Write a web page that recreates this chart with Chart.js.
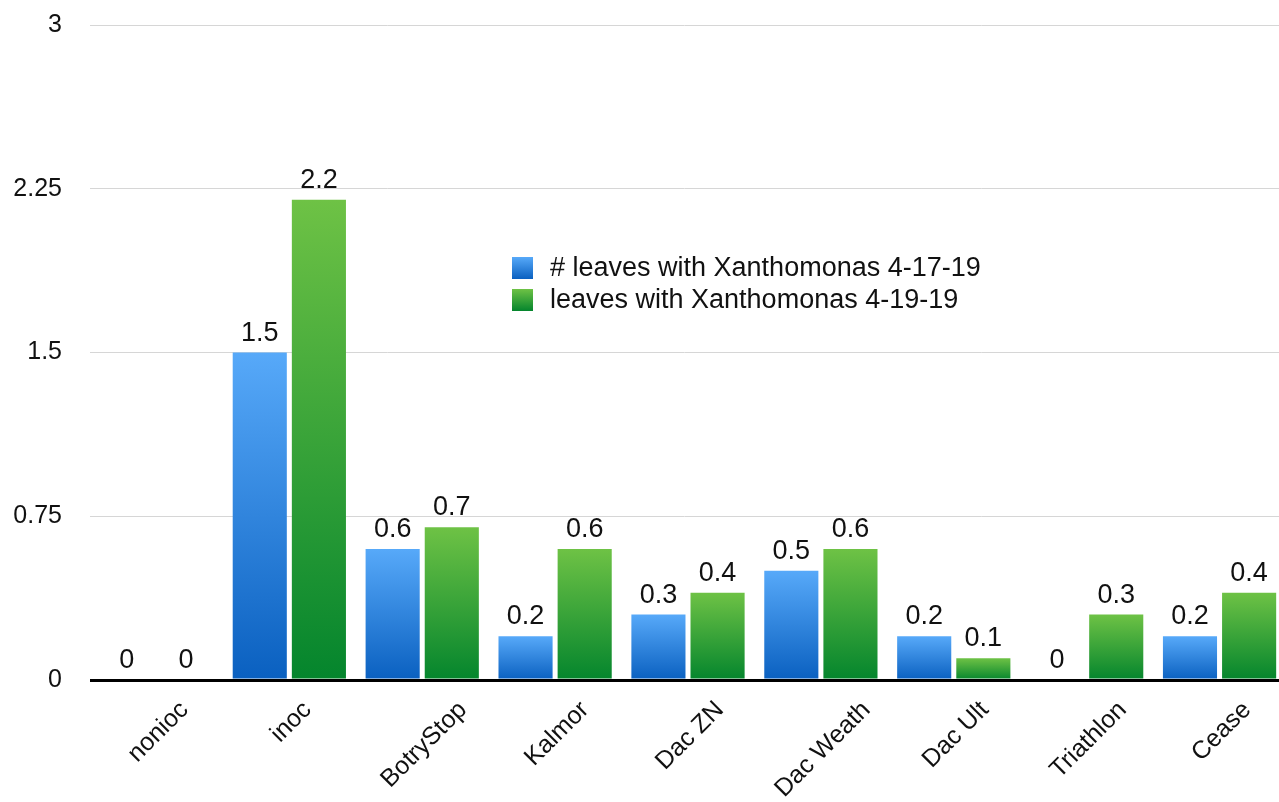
<!DOCTYPE html>
<html>
<head>
<meta charset="utf-8">
<script src="https://cdn.jsdelivr.net/npm/chart.js@4/dist/chart.umd.min.js"></script>
<style>
  html, body { margin: 0; padding: 0; background: #fff; }
  #wrap { width: 1279px; height: 802px; position: relative; }
</style>
</head>
<body>
<div id="wrap"><canvas id="chart"></canvas></div>
<script>
const categories = ["nonioc", "inoc", "BotryStop", "Kalmor", "Dac ZN", "Dac Weath", "Dac Ult", "Triathlon", "Cease"];
const leaves41719 = [0, 1.5, 0.6, 0.2, 0.3, 0.5, 0.2, 0, 0.2];
const leaves41919 = [0, 2.2, 0.7, 0.6, 0.4, 0.6, 0.1, 0.3, 0.4];
const yTicks = [0, 0.75, 1.5, 2.25, 3];

const FONT = "'Liberation Sans', Arial, Helvetica, sans-serif";
const blue = ["#57a9f9", "#0a60c0"];
const green = ["#6ec245", "#04852d"];

function barGradient(colors) {
  return ctx => {
    const chart = ctx.chart;
    const y = chart.scales.y;
    if (!y || !chart.chartArea || ctx.raw === undefined) return colors[1];
    const top = y.getPixelForValue(ctx.raw);
    const base = y.getPixelForValue(0);
    if (!isFinite(top) || !isFinite(base) || Math.abs(base - top) < 1) return colors[1];
    const g = chart.ctx.createLinearGradient(0, top, 0, base);
    g.addColorStop(0, colors[0]);
    g.addColorStop(1, colors[1]);
    return g;
  };
}

// plot area as in the original: top tick at 25px, category band a bit past the right edge
const fitArea = {
  id: "fitArea",
  afterLayout(chart) {
    const x = chart.scales.x;
    const y = chart.scales.y;
    chart.chartArea.top = 25;
    chart.chartArea.height = chart.chartArea.bottom - 25;
    y.top = 25;
    y.height = y.bottom - y.top;
    y.configure();
    x.right = chart.chartArea.right + 7;
    x.width = x.right - x.left;
    x.configure();
  }
};

// value labels above each bar
const valueLabels = {
  id: "valueLabels",
  afterDatasetsDraw(chart) {
    const { ctx } = chart;
    ctx.save();
    ctx.font = "27px " + FONT;
    ctx.fillStyle = "#111";
    ctx.textAlign = "center";
    ctx.textBaseline = "alphabetic";
    chart.data.datasets.forEach((ds, i) => {
      chart.getDatasetMeta(i).data.forEach((bar, j) => {
        ctx.fillText(String(ds.data[j]), bar.x, bar.y - 12);
      });
    });
    ctx.restore();
  }
};

// rotated category labels, centred under each group
const xLabels = {
  id: "xLabels",
  afterDraw(chart) {
    const { ctx } = chart;
    const x = chart.scales.x;
    ctx.save();
    ctx.font = "25px " + FONT;
    ctx.fillStyle = "#111";
    ctx.textAlign = "center";
    ctx.textBaseline = "middle";
    chart.data.labels.forEach((lab, i) => {
      const w = ctx.measureText(lab).width;
      const cx = x.getPixelForTick(i) + 2;
      const cy = 701 + (w + 14) * 0.3535;
      ctx.save();
      ctx.translate(cx, cy);
      ctx.rotate(-Math.PI / 4);
      ctx.fillText(lab, 0, 0);
      ctx.restore();
    });
    ctx.restore();
  }
};

// legend drawn inside the plot
const insideLegend = {
  id: "insideLegend",
  afterDraw(chart) {
    const { ctx } = chart;
    const cols = [blue, green];
    ctx.save();
    ctx.font = "27px " + FONT;
    ctx.textAlign = "left";
    ctx.textBaseline = "middle";
    chart.data.datasets.forEach((ds, i) => {
      const top = 257 + i * 32;
      const g = ctx.createLinearGradient(0, top, 0, top + 22);
      g.addColorStop(0, cols[i][0]);
      g.addColorStop(1, cols[i][1]);
      ctx.fillStyle = g;
      ctx.fillRect(512, top, 21, 22);
      ctx.fillStyle = "#111";
      ctx.fillText(ds.label, 550, top + 12);
    });
    ctx.restore();
  }
};

new Chart(document.getElementById("chart"), {
  type: "bar",
  data: {
    labels: categories,
    datasets: [
      {
        label: "# leaves with Xanthomonas 4-17-19",
        data: leaves41719,
        backgroundColor: barGradient(blue)
      },
      {
        label: "leaves with Xanthomonas 4-19-19",
        data: leaves41919,
        backgroundColor: barGradient(green)
      }
    ]
  },
  options: {
    responsive: true,
    maintainAspectRatio: false,
    animation: false,
    categoryPercentage: 0.89,
    barPercentage: 0.915,
    layout: { padding: { top: 10, right: 0, bottom: 0, left: 0 } },
    plugins: {
      legend: { display: false },
      tooltip: { enabled: false }
    },
    scales: {
      x: {
        grid: { display: false },
        border: { display: false },
        ticks: { display: false },
        afterFit(scale) { scale.height = 122; }
      },
      y: {
        min: 0,
        max: 3,
        afterBuildTicks(scale) { scale.ticks = yTicks.map(v => ({ value: v })); },
        border: { display: false },
        grid: {
          drawTicks: false,
          color: c => (c.tick && c.tick.value === 0 ? "#000" : "#d6d6d6"),
          lineWidth: c => (c.tick && c.tick.value === 0 ? 3 : 1)
        },
        ticks: {
          padding: 28,
          color: "#111",
          font: { family: FONT, size: 25 },
          callback: v => String(v)
        },
        afterFit(scale) { scale.width = 90; }
      }
    }
  },
  plugins: [fitArea, valueLabels, xLabels, insideLegend]
});
</script>
</body>
</html>
